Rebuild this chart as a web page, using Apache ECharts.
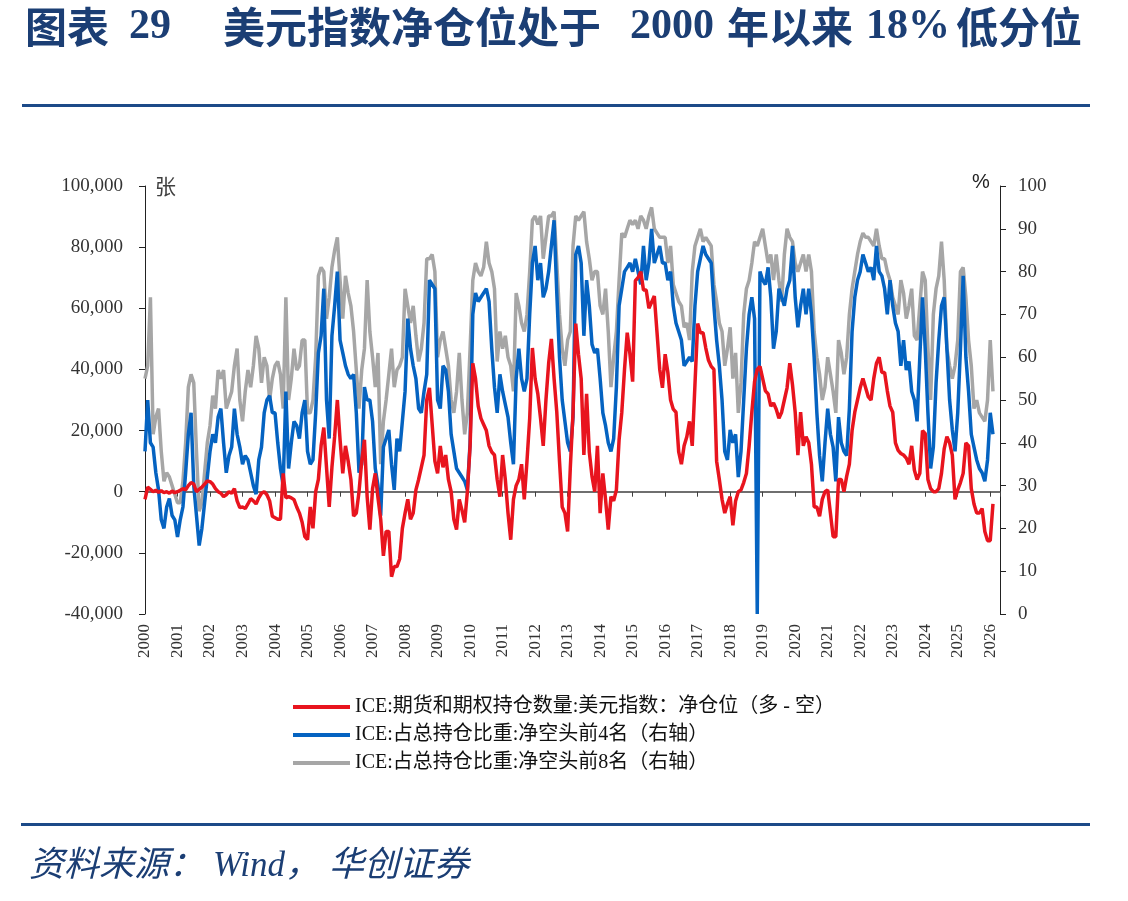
<!DOCTYPE html>
<html>
<head>
<meta charset="utf-8">
<script src="https://cdn.jsdelivr.net/npm/echarts@6/dist/echarts.min.js"></script>
<style>
    html, body { margin: 0; padding: 0; background: #fff; }
    #main { width: 1128px; height: 901px; }
</style>
</head>
<body>
<div id="main"></div>
<script>
// monthly values, starting Jan 2000
var startYear = 2000;

// ICE 美元指数 期货和期权 净仓位 (张)
var netPosition = [
    -2500, 1500, 800, 0, 500, -200, 300, -300, 0, -500, 200, -300,
    0, 500, 1000, 600, 2000, 3000, 2500, 0, 800, 1500, 2500, 3500,
    3300, 2500, 1000, 0, -500, -1600, -1000, 0, -500, 1000, -3000, -5200,
    -5000, -5500, -4000, -2300, -3000, -4000, -2000, -500, 0, -1000, -3000, -8000,
    -8500, -9000, -9000, 6000, -2000, -1600, -2000, -2600, -5000, -7000, -10000, -14700,
    -15700, -5000, -12000, 0, 4000, 15000, 21000, 8000, -5000, 8000, 18000, 30000,
    17000, 6000, 15000, 10000, 4000, -8000, -7000, 0, 10000, 17000, -1600, -12400,
    1000, 6000, -2000, -9000, -21000, -13000, -13000, -27800, -24500, -24500, -22000, -12000,
    -7000, -2500, -9000, -7000, 600, 4000, 8000, 12000, 30000, 34000, 22000, 10000,
    6000, 15000, 8000, 12000, 4000, 0, -9000, -12400, -2500, -6000, -10000, 0,
    15000, 42000, 37000, 28000, 24000, 22000, 20000, 15000, 13000, 12000, 4000, -1600,
    12000, 4000, -7000, -15700, -2500, 2000, 4000, 9000, -2500, 10000, 24000, 47000,
    37000, 32000, 24000, 15000, 30000, 42000, 50000, 37000, 26000, 10000, -5000, -7000,
    -13000, 8000, 26000, 55000, 45000, 37000, 12000, 32000, 13000, 5000, 0, 15000,
    -7000, 6000, -2500, -12400, -1600, -3000, 600, 17000, 26000, 40000, 52000, 45000,
    36000, 69000, 70000, 72000, 66000, 66000, 60000, 62000, 64000, 52000, 40000, 34000,
    45000, 39000, 30000, 27000, 26000, 13000, 9000, 15000, 18000, 23000, 15000, 35000,
    55000, 52000, 52000, 47000, 43000, 41000, 40000, 10000, 4000, -2500, -7000, -4000,
    -1600, -11000, -3000, 0, 600, 3000, 6000, 15000, 26000, 36000, 40000, 41000,
    37000, 33000, 32000, 28000, 29000, 27000, 24000, 26000, 30000, 34000, 42000, 35000,
    26000, 12000, 26000, 15000, 18000, 16000, 9000, -5000, -5000, -8000, -2500, 0,
    600, -7000, -14700, -14700, 4000, 4000, 0, 5000, 9000, 20000, 26000, 30000,
    34000, 37000, 34000, 31000, 30000, 37000, 42000, 44000, 39000, 39000, 33000, 28000,
    26000, 16000, 13500, 12500, 12000, 11000, 9000, 15000, 7000, 4000, 6000, 20000,
    19000, 4000, 1000, 0, 0, 1000, 6000, 14000, 18000, 16000, 12000, -2500,
    600, 3000, 6000, 16000, 15000, 1000, -4000, -7000, -7000, -5500, -13000, -16000,
    -16000, -4000
];

// 净空头前4名 占总持仓比重 (%)
var top4Share = [
    38, 50, 40, 39, 33, 29, 22, 20, 25, 27, 23, 22,
    18, 22, 25, 33, 42, 47, 30, 23, 16, 20, 26, 32,
    38, 42, 40, 46, 48, 40, 33, 37, 39, 48, 42, 39,
    35, 37, 36, 33, 30, 28, 36, 39, 47, 50, 51, 47,
    47, 40, 34, 30, 52, 34, 40, 45, 44, 41, 47, 50,
    38, 35, 36, 47, 61, 65, 76, 50, 41, 65, 72, 80,
    64, 61, 58, 56, 55, 56, 47, 33, 35, 53, 50, 50,
    45, 34, 30, 23, 39, 41, 43, 35, 29, 41, 38, 45,
    52, 69, 62, 58, 55, 48, 47, 52, 56, 78, 77, 76,
    50, 48, 58, 57, 52, 42, 38, 34, 33, 32, 31, 29,
    40, 70, 75, 73, 74, 75, 76, 73, 62, 53, 47, 56,
    52, 49, 46, 40, 35, 55, 62, 55, 52, 55, 70, 82,
    86, 78, 82, 74, 76, 80, 86, 92, 75, 60, 50, 45,
    40, 38, 46, 84, 86, 82, 65, 78, 72, 63, 61, 62,
    55, 47, 44, 40, 38, 41, 53, 72, 76, 80, 81, 82,
    80, 83, 80, 77, 86, 78, 82, 90, 82, 84, 86, 82,
    82, 78, 80, 72, 68, 66, 64, 58, 59, 60, 59, 72,
    80, 83, 86, 84, 83, 82, 72, 64, 58, 50, 38, 36,
    43, 40, 42, 32, 38, 50, 62, 70, 74, 69, 0, 80,
    78, 77, 81, 74, 62, 66, 76, 74, 72, 76, 78, 86,
    74, 67, 72, 76, 70, 76, 70, 60, 47, 37, 31, 40,
    48, 42, 39, 31, 46, 40, 38, 37, 48, 66, 74, 78,
    80, 84, 82, 80, 81, 78, 86, 80, 79, 76, 70, 78,
    72, 68, 66, 58, 64, 57, 59, 52, 50, 45, 60, 74,
    62, 47, 34, 39, 54, 64, 72, 74, 62, 50, 43, 38,
    47, 62, 79, 60, 52, 42, 39, 36, 34, 33, 31, 36,
    47, 42
];

// 净空头前8名 占总持仓比重 (%)
var top8Share = [
    55, 58, 74, 42, 46, 48, 38, 31, 33, 32, 30, 28,
    26, 26, 31, 40, 53, 56, 54, 38, 24, 26, 33, 40,
    44, 51, 48, 57, 55, 57, 48, 50, 52, 58, 62, 50,
    45, 52, 57, 53, 58, 65, 62, 54, 60, 58, 50, 55,
    58, 59, 56, 48, 74, 50, 55, 62, 57, 58, 64, 64,
    47, 47, 50, 60, 79, 81, 80, 69, 74, 81, 85, 88,
    78, 69, 79, 75, 72, 66, 57, 48, 57, 62, 78, 66,
    60, 53, 61, 35, 45, 50, 56, 62, 53, 57, 58, 60,
    76, 72, 68, 72, 65, 59, 62, 68, 83, 83, 84, 80,
    60, 64, 66, 62, 58, 50, 47, 52, 61, 50, 42, 47,
    62, 78, 82, 80, 79, 81, 87, 82, 80, 76, 59, 66,
    62, 65, 60, 58, 52, 75, 72, 68, 66, 70, 80, 92,
    93, 91, 93, 83, 88, 93, 93, 94, 82, 70, 62, 58,
    64, 66, 86, 93, 92, 93, 94, 87, 83, 78, 80, 80,
    72, 70, 76, 66, 53, 60, 66, 78, 89, 88, 90, 92,
    91, 92, 90, 93, 92, 90, 93, 95, 90, 89, 88, 88,
    88, 82, 86, 77, 75, 73, 72, 67, 68, 64, 80, 86,
    88, 90, 87, 88, 87, 86, 77, 73, 68, 66, 58, 62,
    67, 55, 61, 47, 54, 70, 76, 78, 82, 87, 86, 88,
    90, 86, 82, 84, 78, 84, 78, 73, 84, 90, 88, 87,
    82, 80, 82, 84, 80, 84, 80, 66, 60, 56, 50, 53,
    60, 56, 52, 47, 64, 61, 56, 60, 70, 76, 80, 84,
    87, 89, 88, 88, 87, 86, 90, 86, 83, 83, 80, 78,
    74, 72, 70, 78, 75, 69, 72, 76, 65, 64, 72, 80,
    78, 62, 50, 70, 76, 79, 87, 78, 62, 58, 55, 58,
    64, 80, 81, 74, 64, 58, 48, 50, 47, 46, 45, 50,
    64, 52
];

var seriesNames = [
    'ICE:期货和期权持仓数量:美元指数：净仓位（多 - 空）',
    'ICE:占总持仓比重:净空头前4名（右轴）',
    'ICE:占总持仓比重:净空头前8名（右轴）'
];

var serif = '"Liberation Serif", "Noto Sans CJK SC", serif';
var navy = '#1B3E74';

function toPoints(arr) {
    return arr.map(function (v, i) {
        return [startYear + i / 12, v];
    });
}

function titleText(str, left, family) {
    return {
        type: 'text', left: left, top: 6,
        style: {
            text: str, fill: navy, fontSize: 42, fontWeight: 'bold',
            fontFamily: family || '"Noto Sans CJK SC", sans-serif'
        }
    };
}

function sourceText(str, left) {
    return {
        type: 'text', left: left, top: 849,
        style: {
            text: str, fill: navy, fontSize: 35, fontStyle: 'italic',
            fontFamily: serif
        }
    };
}

var myChart = echarts.init(document.getElementById('main'));
myChart.setOption({
    animation: false,
    backgroundColor: '#fff',
    grid: {
        left: 145,
        right: 128,
        top: 186,
        bottom: 287
    },
    legend: {
        orient: 'vertical',
        left: 288,
        top: 692,
        icon: 'rect',
        itemWidth: 57,
        itemHeight: 4,
        itemGap: 8,
        textStyle: {
            fontSize: 20,
            fontFamily: serif,
            color: '#111'
        },
        data: seriesNames
    },
    graphic: [
        titleText('图表', 25),
        titleText('29', 129, '"Liberation Serif", serif'),
        titleText('美元指数净仓位处于', 223),
        titleText('2000', 630, '"Liberation Serif", serif'),
        titleText('年以来', 727),
        titleText('18%', 866, '"Liberation Serif", serif'),
        titleText('低分位', 956),
        {
            type: 'rect', left: 22, top: 104,
            shape: { width: 1068, height: 3 },
            style: { fill: '#1C4A88' }
        },
        {
            type: 'rect', left: 21, top: 823,
            shape: { width: 1069, height: 3 },
            style: { fill: '#1C4A88' }
        },
        sourceText('资料来源：', 29),
        sourceText('Wind，', 213),
        sourceText('华创证券', 329),
        {
            type: 'text', left: 155, top: 178,
            style: { text: '张', fill: '#404040', fontSize: 21, fontFamily: serif }
        },
        {
            type: 'text', left: 972, top: 172,
            style: { text: '%', fill: '#222', fontSize: 20, fontFamily: '"Liberation Sans", sans-serif' }
        }
    ],
    xAxis: [
        {
            type: 'value',
            position: 'bottom',
            min: 2000,
            max: 2026.3,
            interval: 1,
            axisLine: { show: false, onZero: false },
            axisTick: { show: false },
            splitLine: { show: false },
            axisLabel: {
                rotate: 90,
                margin: 10,
                fontSize: 17,
                fontFamily: serif,
                color: '#333',
                formatter: function (v) {
                    return Number.isInteger(v) ? String(v) : '';
                }
            }
        },
        {
            type: 'value',
            position: 'bottom',
            min: 2000,
            max: 2026.3,
            interval: 1,
            axisLine: { show: true, onZero: true, lineStyle: { color: '#404040', width: 1.5 } },
            axisTick: { show: true, length: 5, lineStyle: { color: '#404040' } },
            axisLabel: { show: false },
            splitLine: { show: false }
        }
    ],
    yAxis: [
        {
            type: 'value',
            position: 'left',
            min: -40000,
            max: 100000,
            interval: 20000,
            axisLine: { show: true, onZero: false, lineStyle: { color: '#222' } },
            axisTick: { show: true, length: 6, lineStyle: { color: '#222' } },
            splitLine: { show: false },
            axisLabel: {
                margin: 22,
                fontSize: 19,
                fontFamily: serif,
                color: '#333',
                formatter: function (v) {
                    return v.toLocaleString('en-US');
                }
            }
        },
        {
            type: 'value',
            position: 'right',
            min: 0,
            max: 100,
            interval: 10,
            axisLine: { show: true, onZero: false, lineStyle: { color: '#222' } },
            axisTick: { show: true, length: 6, lineStyle: { color: '#222' } },
            splitLine: { show: false },
            axisLabel: {
                margin: 18,
                fontSize: 19,
                fontFamily: serif,
                color: '#333'
            }
        }
    ],
    series: [
        {
            name: seriesNames[0],
            type: 'line',
            xAxisIndex: 0,
            yAxisIndex: 0,
            data: toPoints(netPosition),
            symbol: 'none',
            z: 4,
            itemStyle: { color: '#E8141E' },
            lineStyle: { width: 3.5, color: '#E8141E' }
        },
        {
            name: seriesNames[1],
            type: 'line',
            xAxisIndex: 0,
            yAxisIndex: 1,
            data: toPoints(top4Share),
            symbol: 'none',
            z: 3,
            itemStyle: { color: '#0563C1' },
            lineStyle: { width: 3.5, color: '#0563C1' }
        },
        {
            name: seriesNames[2],
            type: 'line',
            xAxisIndex: 0,
            yAxisIndex: 1,
            data: toPoints(top8Share),
            symbol: 'none',
            z: 2,
            itemStyle: { color: '#A6A6A6' },
            lineStyle: { width: 3.5, color: '#A6A6A6' }
        }
    ]
});
</script>
</body>
</html>
